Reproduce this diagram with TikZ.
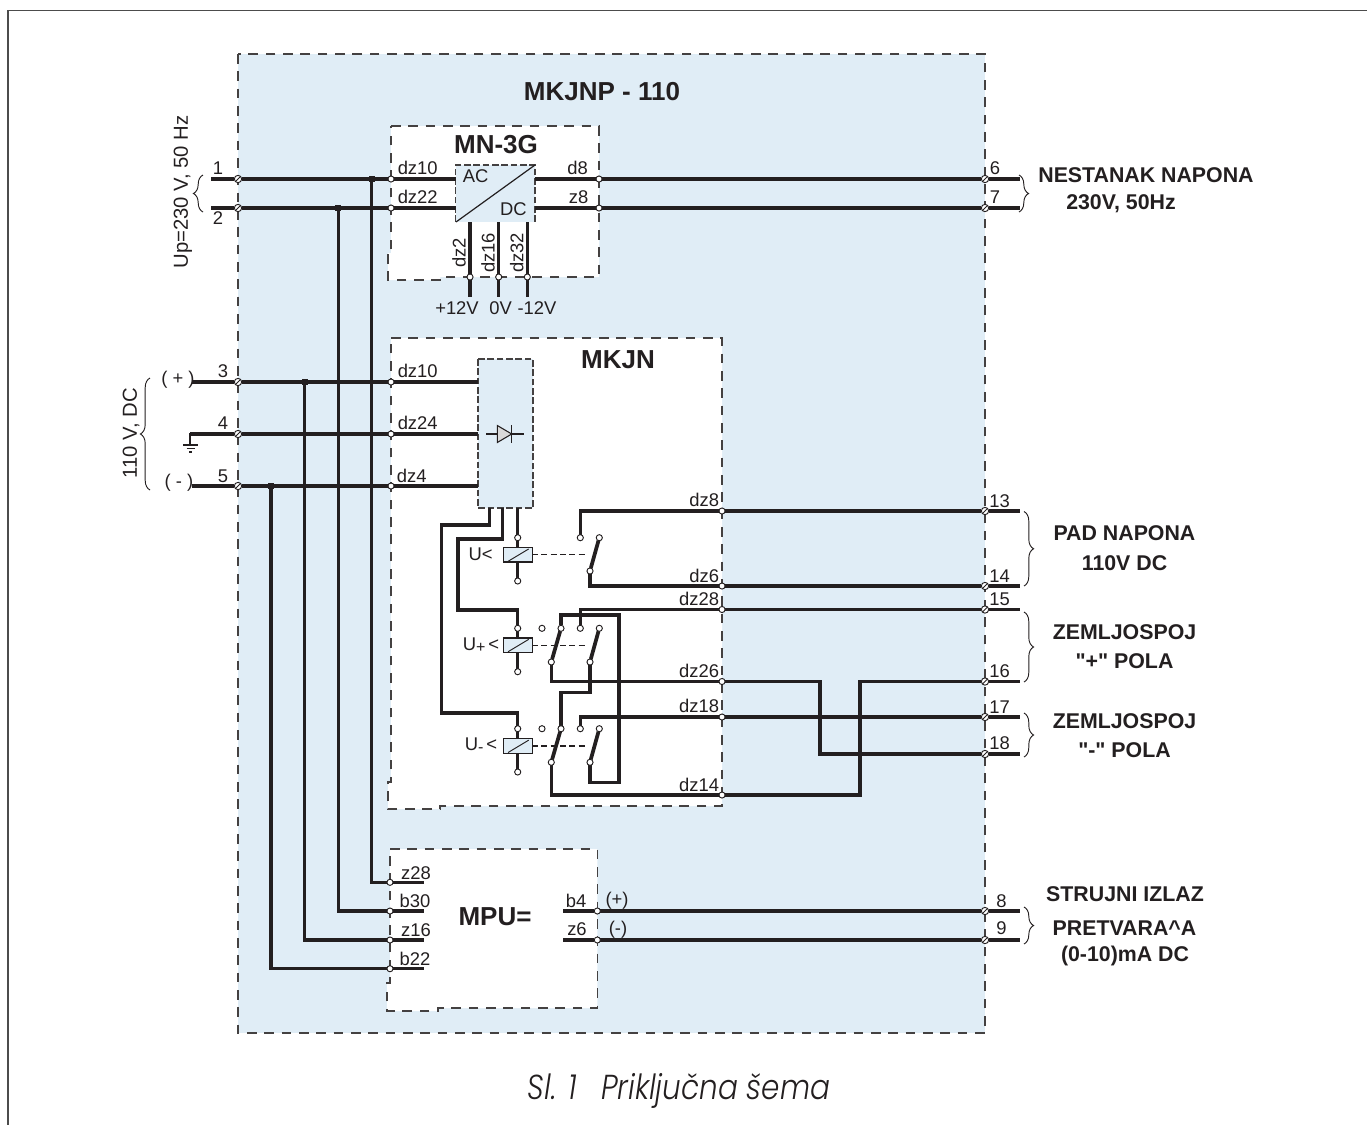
\documentclass[tikz,border=0pt]{standalone}
\usepackage{fontspec}
\setmainfont{Liberation Sans}
\newfontfamily\headfont{Liberation Sans}
\newfontfamily\capfont[FakeStretch=0.85]{Poppins Light Italic}
\usetikzlibrary{decorations.pathreplacing}
\definecolor{panelblue}{HTML}{E0EDF6}
\definecolor{inkblack}{HTML}{231F20}
\pgfdeclarelayer{fills}
\pgfdeclarelayer{wires}
\pgfsetlayers{fills,wires,main}

\begin{document}
\begin{tikzpicture}[x=0.75pt,y=-0.75pt,
  every node/.style={inner sep=0pt, outer sep=0pt, text=inkblack},
  lab/.style={font=\fontsize{13.8}{16}\selectfont},
  side/.style={font=\fontsize{15.2}{18}\selectfont},
  title/.style={font=\fontsize{19.5}{22}\selectfont\bfseries},
  head/.style={font=\fontsize{16}{19}\selectfont\headfont\bfseries},
  term/.style={circle, draw=inkblack, fill=white, line width=0.7pt, minimum size=5.5pt, path picture={\draw[line width=0.7pt, inkblack] (path picture bounding box.south west) -- (path picture bounding box.north east);}},
  pinnode/.style={circle, draw=inkblack, fill=white, line width=0.7pt, minimum size=4.6pt},
  jct/.style={rectangle, fill=inkblack, minimum size=4.5pt},
  coil/.style={rectangle, draw=inkblack, fill=panelblue, line width=0.8pt, minimum width=21.5pt, minimum height=10.8pt, path picture={\draw[line width=0.7pt, inkblack] ([xshift=3.5pt,yshift=0.5pt]path picture bounding box.south west) -- ([xshift=-2.5pt,yshift=-1pt]path picture bounding box.north east);}},
  wire/.style={line width=2.3pt, draw=inkblack, line join=miter},
  blade/.style={line width=2.8pt, draw=inkblack},
  blockline/.style={line width=0.95pt, draw=inkblack!85, dash pattern=on 7.2pt off 5.8pt},
  innerline/.style={line width=0.95pt, draw=inkblack!85, dash pattern=on 5pt off 2pt},
  linkline/.style={line width=0.8pt, draw=inkblack, dash pattern=on 4.5pt off 2.5pt},
  bracket/.style={line width=0.7pt, draw=inkblack, decorate, decoration={brace, amplitude=7.2pt}}]
\useasboundingbox (0,0) rectangle (1367,1125);

\node[title] (mkjnptitle) at (602,92) {MKJNP - 110};
\node[title] (mn3gtitle) at (496,145) {MN-3G};
\node[title] (mkjntitle) at (618,360) {MKJN};
\node[title] (mputitle) at (495,917) {MPU=};

\node[term] (t1) at (238,179) {};
\node[term] (t2) at (238,208) {};
\node[term] (t3) at (238,382) {};
\node[term] (t4) at (238,434) {};
\node[term] (t5) at (238,486) {};
\node[term] (t6) at (985,179) {};
\node[term] (t7) at (985,208) {};
\node[term] (t13) at (985,511) {};
\node[term] (t14) at (985,586) {};
\node[term] (t15) at (985,609.5) {};
\node[term] (t16) at (985,681.5) {};
\node[term] (t17) at (985,717) {};
\node[term] (t18) at (985,754) {};
\node[term] (t8) at (985,911) {};
\node[term] (t9) at (985,940) {};

\coordinate (w1) at (211,179);
\coordinate (w2) at (211,208);
\coordinate (w3) at (192,382);
\coordinate (w4) at (190,434);
\coordinate (w5) at (192,486);
\coordinate (w6) at (1020,179);
\coordinate (w7) at (1020,208);
\coordinate (w13) at (1020,511);
\coordinate (w14) at (1020,586);
\coordinate (w15) at (1020,609.5);
\coordinate (w16) at (1020,681.5);
\coordinate (w17) at (1020,717);
\coordinate (w18) at (1020,754);
\coordinate (w8) at (1020,911);
\coordinate (w9) at (1020,940);

\node[jct] (j1) at (371.7,179) {};
\node[jct] (j2) at (338.3,208) {};
\node[jct] (j3) at (304.7,382) {};
\node[jct] (j5) at (271,486) {};

\node[pinnode] (pa10) at (391,179) {};
\node[pinnode] (pa22) at (391,208) {};
\node[pinnode] (pd8) at (599,179) {};
\node[pinnode] (pz8) at (599,208) {};
\node[pinnode] (pa2) at (470,277) {};
\node[pinnode] (pa16) at (498.7,277) {};
\node[pinnode] (pa32) at (527.3,277) {};
\coordinate (acin1) at (455.5,179);
\coordinate (acin2) at (455.5,208);
\coordinate (acout1) at (535,179);
\coordinate (acout2) at (535,208);
\coordinate (dctop2) at (470,222);
\coordinate (dctop16) at (498.7,222);
\coordinate (dctop32) at (527.3,222);
\coordinate (dcend2) at (470,296.5);
\coordinate (dcend16) at (498.7,296.5);
\coordinate (dcend32) at (527.3,296.5);

\node[pinnode] (pk10) at (391,382) {};
\node[pinnode] (pk24) at (391,434) {};
\node[pinnode] (pk4) at (391,486) {};
\coordinate (rectin1) at (478,382);
\coordinate (rectin2) at (478,434);
\coordinate (rectin3) at (478,486);
\coordinate (rectout1) at (489.3,508);
\coordinate (rectout2) at (502.7,508);
\coordinate (rectout3) at (517.7,508);
\coordinate (diodea) at (486,434);
\coordinate (diodeb) at (524,434);

\node[pinnode] (pk8) at (722,511) {};
\node[pinnode] (pk6) at (722,586) {};
\node[pinnode] (pk28) at (722,609.5) {};
\node[pinnode] (pk26) at (722,681.5) {};
\node[pinnode] (pk18) at (722,717) {};
\node[pinnode] (pk14) at (722,795) {};

\node[coil] (r1box) at (517.7,554.8) {};
\node[pinnode] (r1top) at (517.7,537.7) {};
\node[pinnode] (r1bot) at (517.7,581) {};
\node[pinnode] (r1nc) at (580.3,537.7) {};
\node[pinnode] (r1no) at (599.3,537.7) {};
\node[pinnode] (r1piv) at (590,571) {};
\coordinate (r1link) at (588,554.8);

\node[coil] (r2box) at (517.7,645.2) {};
\node[pinnode] (r2top) at (517.7,628.3) {};
\node[pinnode] (r2bot) at (517.7,671.7) {};
\node[pinnode] (r2free) at (542,628.3) {};
\node[pinnode] (r2ano) at (561,628.3) {};
\node[pinnode] (r2bnc) at (580.3,628.3) {};
\node[pinnode] (r2bno) at (599.3,628.3) {};
\node[pinnode] (r2apiv) at (551.3,662) {};
\node[pinnode] (r2bpiv) at (590,662) {};
\coordinate (r2link) at (588,645.2);

\node[coil] (r3box) at (517.7,746) {};
\node[pinnode] (r3top) at (517.7,728.7) {};
\node[pinnode] (r3bot) at (517.7,772) {};
\node[pinnode] (r3free) at (542,728.7) {};
\node[pinnode] (r3ano) at (561,728.7) {};
\node[pinnode] (r3bnc) at (580.3,728.7) {};
\node[pinnode] (r3bno) at (599.3,728.7) {};
\node[pinnode] (r3apiv) at (551.3,762.3) {};
\node[pinnode] (r3bpiv) at (590,762.3) {};
\coordinate (r3link) at (588,746);

\node[pinnode] (pm28) at (390,882.3) {};
\node[pinnode] (pm30) at (390,911) {};
\node[pinnode] (pm16) at (390,940) {};
\node[pinnode] (pm22) at (390,968.7) {};
\node[pinnode] (pm4) at (597.3,911) {};
\node[pinnode] (pm6) at (597.3,940) {};
\coordinate (mend28) at (424,882.3);
\coordinate (mend30) at (424,911);
\coordinate (mend16) at (424,940);
\coordinate (mend22) at (424,968.7);
\coordinate (mend4) at (563,911);
\coordinate (mend6) at (563,940);

\node[lab] (ln1) at (218,168) {1};
\node[lab] (ln2) at (218,218) {2};
\node[lab] (ln3) at (223,371) {3};
\node[lab] (ln4) at (223,423) {4};
\node[lab] (ln5) at (223,476) {5};
\node[lab] (ln6) at (995,168) {6};
\node[lab] (ln7) at (995,197) {7};
\node[lab] (ln13) at (999.5,501) {13};
\node[lab] (ln14) at (999.5,576) {14};
\node[lab] (ln15) at (999.5,599) {15};
\node[lab] (ln16) at (999.5,671) {16};
\node[lab] (ln17) at (999.5,707) {17};
\node[lab] (ln18) at (999.5,743) {18};
\node[lab] (ln8) at (1001.5,901) {8};
\node[lab] (ln9) at (1001.5,928) {9};

\node[lab] (lb1) at (417.7,168) {dz10};
\node[lab] (lb2) at (417.7,197) {dz22};
\node[lab] (lb3) at (577.7,168) {d8};
\node[lab] (lb4) at (578.7,197) {z8};
\node[lab] (lb5) at (475.7,176) {AC};
\node[lab] (lb6) at (513.3,209.5) {DC};
\node[lab,rotate=90] (lb7) at (459,253) {dz2};
\node[lab,rotate=90] (lb8) at (488,253) {dz16};
\node[lab,rotate=90] (lb9) at (516.7,253) {dz32};
\node[lab] (lb10) at (457,308) {+12V};
\node[lab] (lb11) at (500.7,308) {0V};
\node[lab] (lb12) at (537,308) {-12V};
\node[lab] (lb13) at (417.7,371) {dz10};
\node[lab] (lb14) at (417.7,423) {dz24};
\node[lab] (lb15) at (411.7,476) {dz4};
\node[lab,anchor=east] (lb16) at (719,500) {dz8};
\node[lab,anchor=east] (lb17) at (719,576) {dz6};
\node[lab,anchor=east] (lb18) at (719,599) {dz28};
\node[lab,anchor=east] (lb19) at (719,671) {dz26};
\node[lab,anchor=east] (lb20) at (719,706) {dz18};
\node[lab,anchor=east] (lb21) at (719,785) {dz14};
\node[lab] (lb22) at (480.7,554) {U<};
\node[lab] (lb23) at (481,645) {U\raisebox{-2pt}{\fontsize{12}{12}\selectfont+}\,<};
\node[lab] (lb24) at (481,745) {U\raisebox{-2pt}{\fontsize{12}{12}\selectfont-}\,<};
\node[lab] (lb25) at (416,873) {z28};
\node[lab] (lb26) at (415,901) {b30};
\node[lab] (lb27) at (416,930) {z16};
\node[lab] (lb28) at (415,959) {b22};
\node[lab] (lb29) at (576,901) {b4};
\node[lab] (lb30) at (577,929.5) {z6};
\node[lab] (lb31) at (617,901) {(+)};
\node[lab] (lb32) at (618,929.5) {(-)};
\node[lab] (lb33) at (178,380) {( + )};
\node[lab] (lb34) at (179,483) {( - )};

\node[side,rotate=90] (lsup1) at (183,192) {Up=230 V, 50 Hz};
\node[side,rotate=90] (lsup2) at (131,433) {110 V, DC};

\node[head] (hd1) at (1146,175) {NESTANAK NAPONA};
\node[head] (hd2) at (1121,204) {230V, 50Hz};
\node[head] (hd3) at (1124.5,533) {PAD NAPONA};
\node[head] (hd4) at (1124.5,563) {110V DC};
\node[head] (hd5) at (1124.5,632) {ZEMLJOSPOJ};
\node[head] (hd6) at (1124.5,661) {"+" POLA};
\node[head] (hd7) at (1124.5,721) {ZEMLJOSPOJ};
\node[head] (hd8) at (1124.5,750) {"-" POLA};
\node[head] (hd9) at (1125,894) {STRUJNI IZLAZ};
\node[head] (hd10) at (1124.5,928) {PRETVARA\textasciicircum A};
\node[head] (hd11) at (1125,956) {(0-10)mA DC};

\node[font=\fontsize{26}{29}\selectfont\capfont] (caption) at (679,1091) {Sl. 1\hspace{0.7em}Priključna šema};

\begin{pgfonlayer}{fills}
\draw[blockline, fill=panelblue] (238,54) rectangle (985,1033);
\draw[blockline, fill=white] (391,126) -- (599,126) -- (599,277) -- (440,277) -- (440,280) -- (388,280) -- (388,253) -- (391,253) -- cycle;
\draw[blockline, fill=white] (391,338) -- (722,338) -- (722,806) -- (440,806) -- (440,809) -- (388,809) -- (388,782) -- (391,782) -- cycle;
\draw[blockline, fill=white] (390,849) -- (597.3,849) -- (597.3,1008) -- (438,1008) -- (438,1011) -- (387,1011) -- (387,983) -- (390,983) -- cycle;
\fill[panelblue] (455.5,222) rectangle (535,165);
\draw[innerline] (455.5,222) -- (455.5,165) -- (535,165) -- (535,222);
\draw[innerline, fill=panelblue] (478,359) rectangle (533,508);
\end{pgfonlayer}

\begin{pgfonlayer}{wires}
\draw[wire] (w1) -- (t1);
\draw[wire] (w2) -- (t2);
\draw[wire] (t1) -- (pa10);
\draw[wire] (t2) -- (pa22);
\draw[wire] (pa10) -- (acin1);
\draw[wire] (pa22) -- (acin2);
\draw[wire] (acout1) -- (pd8);
\draw[wire] (acout2) -- (pz8);
\draw[wire] (pd8) -- (t6);
\draw[wire] (pz8) -- (t7);
\draw[wire] (t6) -- (w6);
\draw[wire] (t7) -- (w7);
\draw[wire] (dctop2) -- (dcend2);
\draw[wire] (dctop16) -- (dcend16);
\draw[wire] (dctop32) -- (dcend32);

\draw[wire] (w3) -- (t3);
\draw[wire] (w4) -- (t4);
\draw[wire] (w5) -- (t5);
\draw[wire] (t3) -- (pk10);
\draw[wire] (t4) -- (pk24);
\draw[wire] (t5) -- (pk4);
\draw[wire] (pk10) -- (rectin1);
\draw[wire] (pk24) -- (rectin2);
\draw[wire] (pk4) -- (rectin3);

\draw[wire] (j1) |- (pm28);
\draw[wire] (j2) |- (pm30);
\draw[wire] (j3) |- (pm16);
\draw[wire] (j5) |- (pm22);
\draw[wire] (pm28) -- (mend28);
\draw[wire] (pm30) -- (mend30);
\draw[wire] (pm16) -- (mend16);
\draw[wire] (pm22) -- (mend22);
\draw[wire] (mend4) -- (pm4);
\draw[wire] (mend6) -- (pm6);
\draw[wire] (pm4) -- (t8);
\draw[wire] (pm6) -- (t9);
\draw[wire] (t8) -- (w8);
\draw[wire] (t9) -- (w9);

\draw[wire] (rectout1) -- (489.3,525) -| (441.7,713) -| (r3top);
\draw[wire] (rectout2) -- (502.7,539) -| (458,610) -| (r2top);
\draw[wire] (rectout3) -- (r1top);
\draw[wire] (r1top) -- (r1box);
\draw[wire] (r1box) -- (r1bot);
\draw[wire] (r2top) -- (r2box);
\draw[wire] (r2box) -- (r2bot);
\draw[wire] (r3top) -- (r3box);
\draw[wire] (r3box) -- (r3bot);

\draw[blade] (r1piv) -- (r1no);
\draw[blade] (r2apiv) -- (r2ano);
\draw[blade] (r2bpiv) -- (r2bno);
\draw[blade] (r3apiv) -- (r3ano);
\draw[blade] (r3bpiv) -- (r3bno);
\draw[linkline] (r1box) -- (r1link);
\draw[linkline] (r2box) -- (r2link);
\draw[linkline] (r3box) -- (r3link);

\draw[wire] (pk8) -| (r1nc);
\draw[wire] (r1piv) |- (pk6);
\draw[wire] (pk28) -| (r2bnc);
\draw[wire] (r2ano) |- (619,615) |- (r3bpiv |- 0,782.3) -- (r3bpiv);
\draw[wire] (r2apiv) |- (pk26);
\draw[wire] (r2bpiv) |- (561,692.7) -- (r3ano);
\draw[wire] (pk18) -| (r3bnc);
\draw[wire] (r3apiv) |- (pk14);

\draw[wire] (pk8) -- (t13);
\draw[wire] (pk6) -- (t14);
\draw[wire] (pk28) -- (t15);
\draw[wire] (pk18) -- (t17);
\draw[wire] (pk26) -| (820,754) -- (t18);
\draw[wire] (pk14) -| (860,681.5) -- (t16);
\draw[wire] (t13) -- (w13);
\draw[wire] (t14) -- (w14);
\draw[wire] (t15) -- (w15);
\draw[wire] (t16) -- (w16);
\draw[wire] (t17) -- (w17);
\draw[wire] (t18) -- (w18);

\draw[line width=0.9pt, inkblack] (456,222) -- (535,165);
\draw[line width=0.9pt, inkblack] (diodea) -- (diodeb);
\draw[line width=0.8pt, inkblack, fill=black!15] (497.3,425.5) -- (511.7,434) -- (497.3,442.5) -- cycle;
\draw[line width=1pt, inkblack] (511.7,425) -- (511.7,443);

\draw[line width=1.5pt, inkblack] (190,433) -- (190,445);
\draw[line width=1.1pt, inkblack] (183,445) -- (198,445);
\draw[line width=1.1pt, inkblack] (186.5,448.5) -- (194.5,448.5);
\draw[line width=1.1pt, inkblack] (189,452) -- (192,452);

\draw[bracket] (203,212) -- (203,175);
\draw[bracket] (150,490) -- (150,378);
\draw[bracket] (1019,175) -- (1019,212);
\draw[bracket] (1024,511.5) -- (1024,586);
\draw[bracket] (1024,612) -- (1024,682);
\draw[bracket] (1024,713) -- (1024,757);
\draw[bracket] (1024,907) -- (1024,944);
\end{pgfonlayer}

\draw[line width=0.9pt, black!70] (1367,10.5) -- (8,10.5) -- (8,1125);
\end{tikzpicture}
\end{document}
